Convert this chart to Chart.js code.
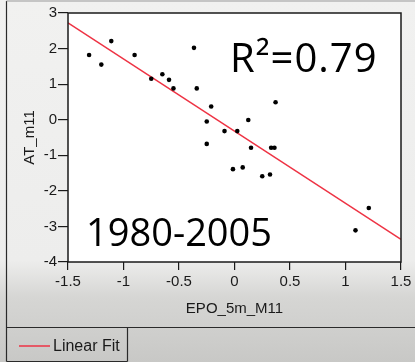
<!DOCTYPE html>
<html>
<head>
<meta charset="utf-8">
<script src="https://cdn.jsdelivr.net/npm/chart.js@4/dist/chart.umd.min.js"></script>
<style>
  html, body { margin: 0; padding: 0; }
  body {
    width: 415px; height: 362px; overflow: hidden;
    background: linear-gradient(to bottom, #f1f1f0 0%, #ededec 72%, #d6d6d4 82%, #c8c8c6 100%);
  }
  #wrap { position: absolute; left: 0; top: 0; width: 415px; height: 362px; }
</style>
</head>
<body>
<div id="wrap"><canvas id="chart" width="415" height="362"></canvas></div>
<script>
// EPO_5m_M11 vs AT_m11, 1980-2005
const epo = [-1.31, -1.20, -1.11, -0.90, -0.75, -0.65, -0.59, -0.55, -0.365, -0.34,
             -0.21, -0.25, -0.25, -0.09, 0.025, 0.124, 0.149, 0.33, 0.36, 0.37,
             -0.014, 0.074, 0.25, 0.32, 1.21, 1.09];
const at  = [1.82, 1.55, 2.21, 1.82, 1.15, 1.28, 1.12, 0.88, 2.02, 0.88,
             0.37, -0.05, -0.68, -0.32, -0.32, -0.01, -0.79, -0.79, -0.79, 0.49,
             -1.39, -1.34, -1.59, -1.54, -2.48, -3.11];
const xTicks = [-1.5, -1, -0.5, 0, 0.5, 1, 1.5];
const yTicks = [-4, -3, -2, -1, 0, 1, 2, 3];
const rSquaredLabel = 'R\u00B2=0.79';
const periodLabel = '1980-2005';

// least squares fit
const n = epo.length;
const mx = epo.reduce((a, b) => a + b, 0) / n;
const my = at.reduce((a, b) => a + b, 0) / n;
let sxy = 0, sxx = 0;
for (let i = 0; i < n; i++) {
  sxy += (epo[i] - mx) * (at[i] - my);
  sxx += (epo[i] - mx) * (epo[i] - mx);
}
const slope = sxy / sxx;
const intercept = my - slope * mx;
const fitX = [xTicks[0], xTicks[xTicks.length - 1]];

const points = epo.map((x, i) => ({ x: x, y: at[i] }));
const fitLine = fitX.map(x => ({ x: x, y: intercept + slope * x }));

const tickFont = { family: '"Liberation Sans", Arial, sans-serif', size: 15 };

const framePlugin = {
  id: 'frame',
  beforeDraw(chart) {
    const { ctx, chartArea } = chart;
    ctx.save();
    ctx.fillStyle = '#ffffff';
    ctx.fillRect(chartArea.left, chartArea.top, chartArea.right - chartArea.left, chartArea.bottom - chartArea.top);
    ctx.restore();
  },
  afterDraw(chart) {
    const { ctx, chartArea } = chart;
    ctx.save();
    // plot border
    ctx.strokeStyle = '#1a1a1a';
    ctx.lineWidth = 1.5;
    ctx.strokeRect(chartArea.left, chartArea.top, chartArea.right - chartArea.left, chartArea.bottom - chartArea.top);

    // outer frame lines
    ctx.strokeStyle = '#2a2a2a';
    ctx.lineWidth = 1.2;
    ctx.beginPath();
    ctx.moveTo(6.5, 1); ctx.lineTo(6.5, 361.5);
    ctx.moveTo(6.5, 327.5); ctx.lineTo(415, 327.5);
    ctx.moveTo(6.5, 361.5); ctx.lineTo(127.5, 361.5);
    ctx.moveTo(127.5, 327.5); ctx.lineTo(127.5, 361.5);
    ctx.stroke();
    ctx.strokeStyle = '#9a9a9a';
    ctx.beginPath();
    ctx.moveTo(6.5, 1); ctx.lineTo(415, 1);
    ctx.stroke();

    // legend
    const fitDs = chart.data.datasets[1];
    ctx.strokeStyle = fitDs.borderColor;
    ctx.lineWidth = 1.5;
    ctx.beginPath();
    ctx.moveTo(19, 346); ctx.lineTo(50, 346);
    ctx.stroke();
    ctx.fillStyle = '#1a1a1a';
    ctx.font = '16px "Liberation Sans", Arial, sans-serif';
    ctx.textBaseline = 'middle';
    ctx.textAlign = 'left';
    ctx.fillText(fitDs.label, 53, 347);

    // annotations
    ctx.textBaseline = 'alphabetic';
    ctx.fillStyle = '#000000';
    ctx.font = '40px "Open Sans", "Noto Sans", sans-serif';
    ctx.letterSpacing = '1px';
    ctx.fillText(rSquaredLabel, 230, 72);
    ctx.letterSpacing = '0px';
    ctx.font = '38px "Open Sans", "Noto Sans", sans-serif';
    ctx.fillText(periodLabel, 86, 246);
    ctx.restore();
  }
};

new Chart(document.getElementById('chart'), {
  type: 'scatter',
  data: {
    datasets: [
      {
        label: 'AT_m11',
        data: points,
        pointRadius: 2.3,
        pointBackgroundColor: '#000000',
        pointBorderWidth: 0,
        showLine: false
      },
      {
        type: 'line',
        label: 'Linear Fit',
        data: fitLine,
        borderColor: '#ee3344',
        borderWidth: 1.5,
        pointRadius: 0,
        fill: false
      }
    ]
  },
  options: {
    responsive: false,
    animation: false,
    devicePixelRatio: 1,
    layout: { padding: { top: 13, right: 14, left: 0, bottom: 0 } },
    plugins: { legend: { display: false }, tooltip: { enabled: false } },
    scales: {
      x: {
        type: 'linear',
        min: -1.5, max: 1.5,
        afterBuildTicks: (scale) => { scale.ticks = xTicks.map(v => ({ value: v })); },
        afterFit: (scale) => { scale.height = 100; },
        grid: { display: true, drawOnChartArea: false, tickLength: 8, color: '#1a1a1a', lineWidth: 1.2 },
        border: { display: false },
        ticks: { color: '#1a1a1a', font: tickFont, padding: 3, maxRotation: 0, autoSkip: false,
                 callback: (v) => String(v) },
        title: { display: true, text: 'EPO_5m_M11', color: '#1a1a1a', font: tickFont,
                 padding: { top: 0, bottom: 44 } }
      },
      y: {
        type: 'linear',
        min: -4, max: 3,
        afterBuildTicks: (scale) => { scale.ticks = yTicks.map(v => ({ value: v })); },
        afterFit: (scale) => { scale.width = 68; },
        grid: { display: true, drawOnChartArea: false, tickLength: 10, color: '#1a1a1a', lineWidth: 1.2 },
        border: { display: false },
        ticks: { color: '#1a1a1a', font: tickFont, padding: 1, autoSkip: false,
                 callback: (v) => String(v) },
        title: { display: true, text: 'AT_m11', color: '#1a1a1a', font: tickFont,
                 padding: { top: 21, bottom: 0 } }
      }
    }
  },
  plugins: [framePlugin]
});
</script>
</body>
</html>
